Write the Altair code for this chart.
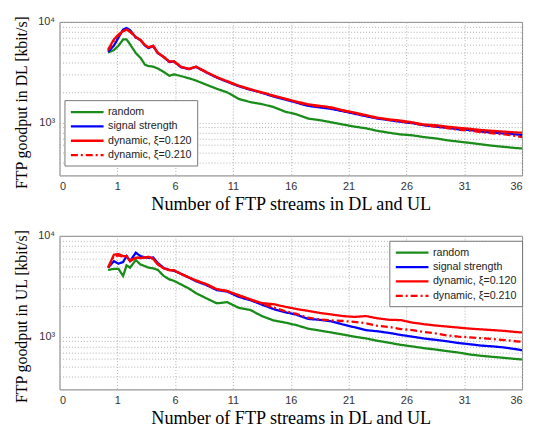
import altair as alt
import pandas as pd

series_names = ["random", "signal strength", "dynamic, ξ=0.120", "dynamic, ξ=0.210"]
series_colors = ["#1a8c1a", "#0000ff", "#ff0000", "#ff0000"]
series_dash = [[1, 0], [1, 0], [1, 0], [7, 3, 2, 3]]

x_vals = [0.2, 0.7, 1.1, 1.5, 1.8, 2.1, 2.6, 3.0, 3.4, 3.7, 4.1, 4.5, 5.0, 5.5, 5.9,
          6.5, 7.2, 7.8, 8.7, 9.6, 10.5, 11.5, 12.5, 13.5, 14.5, 15.5, 16.5, 17.5,
          18.5, 19.5, 20.5, 21.5, 22.5, 23.5, 24.5, 25.5, 26.5, 27.5, 28.5, 29.5,
          30.5, 31.5, 32.5, 33.5, 34.5, 35.5, 36]

# Downlink
dl_random = [4960, 5250, 5800, 6700, 6700, 6000, 4900, 4400, 3750, 3650, 3600, 3450, 3200, 2920, 3020,
             2900, 2760, 2620, 2380, 2170, 2000, 1720, 1600, 1530, 1430, 1290, 1210, 1100,
             1060, 1010, 960, 915, 880, 830, 795, 765, 750, 720, 700, 670,
             650, 630, 610, 590, 575, 560, 556]
dl_signal = [5050, 5800, 7000, 8400, 8700, 8300, 7000, 6600, 5800, 5500, 5750, 4900, 4500, 4000, 4050,
             3550, 3400, 3580, 3150, 2800, 2550, 2300, 2120, 1980, 1820, 1700, 1580, 1470,
             1420, 1370, 1300, 1230, 1160, 1100, 1060, 1020, 990, 945, 915, 890,
             860, 845, 815, 800, 780, 765, 755]
dl_dyn120 = [5300, 6700, 7500, 8100, 8400, 8000, 7100, 6600, 5900, 5600, 5800, 4950, 4500, 4050, 4050,
             3600, 3420, 3600, 3180, 2830, 2580, 2330, 2150, 2000, 1860, 1730, 1620, 1520,
             1470, 1420, 1330, 1260, 1190, 1120, 1080, 1050, 1010, 960, 945, 915,
             890, 870, 845, 830, 815, 800, 796]
dl_dyn210 = [5200, 6500, 7400, 8100, 8400, 8000, 7050, 6600, 5850, 5550, 5780, 4930, 4500, 4030, 4050,
             3580, 3410, 3590, 3170, 2820, 2570, 2320, 2140, 1990, 1840, 1720, 1600, 1500,
             1450, 1400, 1320, 1250, 1170, 1110, 1065, 1030, 990, 945, 915, 885,
             850, 835, 805, 785, 765, 740, 720]

# Uplink
ul_random = [4590, 4700, 4700, 4000, 5100, 4840, 5750, 5200, 5000, 4840, 4750, 4600, 4010, 3700, 3580,
             3300, 3000, 2700, 2400, 2140, 2200, 1930, 1840, 1600, 1450, 1380, 1300, 1200,
             1150, 1100, 1050, 1000, 960, 910, 870, 830, 800, 770, 745, 720,
             695, 665, 645, 630, 615, 600, 594]
ul_signal = [4840, 5600, 5300, 5500, 6300, 5620, 6800, 6300, 6100, 6050, 6100, 5400, 4800, 4600, 4500,
             4200, 3850, 3550, 3250, 2900, 2800, 2480, 2300, 2080, 1880, 1750, 1650, 1500,
             1470, 1420, 1320, 1240, 1160, 1130, 1090, 1040, 1000, 960, 930, 900,
             865, 840, 815, 800, 780, 750, 733]
ul_dyn120 = [4840, 6500, 6600, 6300, 6300, 5620, 6070, 6000, 6100, 6200, 5900, 5200, 4770, 4560, 4560,
             4200, 3870, 3620, 3320, 2960, 2840, 2580, 2350, 2150, 2100, 1980, 1880, 1800,
             1720, 1660, 1600, 1570, 1600, 1520, 1470, 1460, 1380, 1330, 1290, 1260,
             1230, 1200, 1180, 1160, 1140, 1110, 1100]
ul_dyn210 = [4840, 6300, 6400, 6200, 6300, 5650, 6100, 6050, 6100, 6150, 5950, 5250, 4780, 4580, 4550,
             4200, 3860, 3600, 3300, 2950, 2830, 2550, 2330, 2120, 1950, 1790, 1680, 1540,
             1480, 1450, 1430, 1400, 1360, 1280, 1250, 1190, 1160, 1115, 1080, 1030,
             1000, 985, 965, 945, 925, 900, 887]

x_ticks = [-4, 1, 6, 11, 16, 21, 26, 31, 36]
y_ticks = [300, 400, 500, 600, 700, 800, 900, 1000, 2000, 3000, 4000, 5000, 6000,
           7000, 8000, 9000, 10000]


def long_df(series_lists):
    rows = []
    for k, (name, vals) in enumerate(zip(series_names, series_lists)):
        for x, v in zip(x_vals, vals):
            rows.append({"x": x, "v": v, "series": name, "k": k})
    return pd.DataFrame(rows)


dl_df = long_df([dl_random, dl_signal, dl_dyn120, dl_dyn210])
ul_df = long_df([ul_random, ul_signal, ul_dyn120, ul_dyn210])


def panel(df, ytitle, lx, ly):
    leg = alt.Legend(title=None, orient="none", legendX=lx, legendY=ly,
                     symbolType="M-1,0H5", symbolSize=121, symbolStrokeWidth=2.3,
                     labelFont="Liberation Sans", labelFontSize=10.8, labelColor="#222",
                     labelOffset=25, rowPadding=2.5, padding=5,
                     strokeColor="#777", fillColor="white", cornerRadius=0)
    return alt.Chart(df).mark_line(strokeWidth=2.3, clip=True).encode(
        x=alt.X("x:Q", scale=alt.Scale(domain=[-4, 36], nice=False, zero=False),
                axis=alt.Axis(values=x_ticks,
                              labelExpr="datum.value < 0 ? '0' : format(datum.value, 'd')",
                              title="Number of FTP streams in DL and UL")),
        y=alt.Y("v:Q", scale=alt.Scale(type="log", domain=[300, 10000], nice=False),
                axis=alt.Axis(values=y_ticks,
                              labelExpr="datum.value == 1000 ? '10³' : datum.value == 10000 ? '10⁴' : ''",
                              title=ytitle, titleY=81)),
        color=alt.Color("series:N", scale=alt.Scale(domain=series_names, range=series_colors), legend=leg),
        strokeDash=alt.StrokeDash("series:N", scale=alt.Scale(domain=series_names, range=series_dash), legend=leg),
        order="k:O",
    ).properties(width=467, height=155)


top = panel(dl_df, "FTP goodput in DL [kbit/s]", 5, 79)
bottom = panel(ul_df, "FTP goodput in UL [kbit/s]", 333, 5)

chart = alt.vconcat(top, bottom, spacing=61, bounds="flush").resolve_scale(
    color="independent", strokeDash="independent"
).resolve_legend(color="independent", strokeDash="independent").configure(
    padding={"left": 5, "top": 4, "right": 5, "bottom": 2}
).configure_view(
    stroke="#808080", strokeWidth=1
).configure_axis(
    grid=True, gridDash=[1, 2], gridColor="#b0b0b0", gridWidth=1,
    domain=False, ticks=False,
    labelFont="Liberation Sans", labelFontSize=11, labelColor="#333", labelPadding=5,
    titleFont="Liberation Serif", titleFontSize=18, titleFontWeight="normal", titleColor="black",
).configure_axisX(titlePadding=4, titleFontSize=18.3).configure_axisY(titlePadding=8, titleFontSize=16)

chart.save("out.html", embed_options={"renderer": "svg", "actions": False})
